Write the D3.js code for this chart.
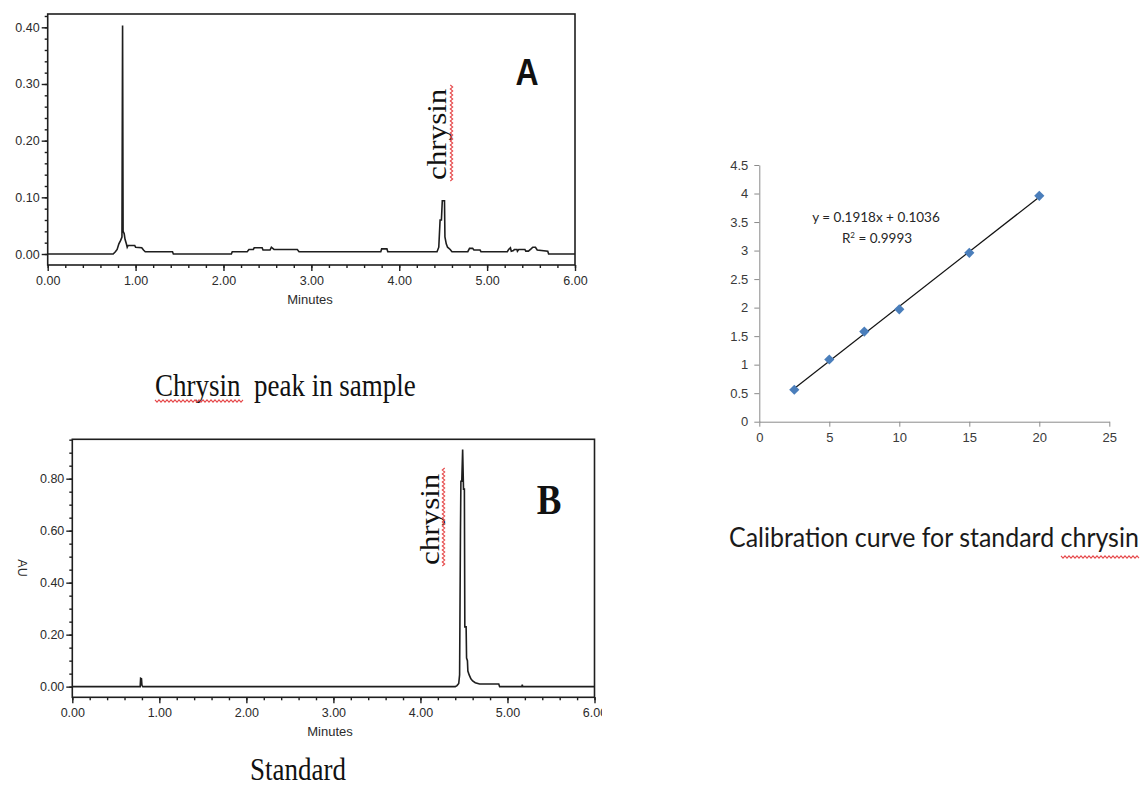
<!DOCTYPE html>
<html>
<head>
<meta charset="utf-8">
<script src="https://cdn.jsdelivr.net/npm/d3@7"></script>
<style>
  html, body { margin: 0; padding: 0; background: #fff; }
  svg { display: block; }
  .tick text { font-family: "Liberation Sans", Arial, sans-serif; }
</style>
</head>
<body>
<script>
// ---------- Chromatogram A: sample extract ----------
const timeA = [0.00, 0.745, 0.77, 0.79, 0.81, 0.83, 0.845, 0.852, 0.858, 0.87, 0.88, 0.895, 0.905, 0.915, 0.99, 1.00, 1.07, 1.09, 1.11, 1.42, 1.43, 2.09, 2.10, 2.27, 2.29, 2.34, 2.35, 2.44, 2.45, 2.53, 2.545, 2.575, 2.84, 2.86, 3.79, 3.80, 3.86, 3.87, 4.43, 4.45, 4.465, 4.48, 4.49, 4.515, 4.52, 4.535, 4.55, 4.58, 4.60, 4.78, 4.80, 4.835, 4.85, 4.92, 4.93, 5.23, 5.245, 5.265, 5.275, 5.30, 5.31, 5.34, 5.345, 5.36, 5.43, 5.44, 5.47, 5.50, 5.52, 5.55, 5.57, 5.69, 5.70, 6.00];
const signalA = [0.000, 0.000, 0.004, 0.008, 0.018, 0.024, 0.030, 0.403, 0.040, 0.036, 0.026, 0.018, 0.012, 0.015, 0.015, 0.012, 0.011, 0.007, 0.004, 0.004, 0.000, 0.000, 0.004, 0.004, 0.008, 0.008, 0.011, 0.011, 0.007, 0.007, 0.012, 0.008, 0.008, 0.004, 0.004, 0.009, 0.009, 0.004, 0.004, 0.012, 0.060, 0.060, 0.094, 0.094, 0.030, 0.018, 0.012, 0.008, 0.004, 0.004, 0.010, 0.010, 0.007, 0.007, 0.004, 0.004, 0.008, 0.011, 0.005, 0.006, 0.008, 0.008, 0.005, 0.008, 0.008, 0.005, 0.005, 0.009, 0.012, 0.012, 0.007, 0.005, 0.000, 0.000];

// ---------- Chromatogram B: chrysin standard ----------
const timeB = [0.00, 0.78, 0.785, 0.795, 0.80, 0.81, 4.40, 4.42, 4.44, 4.45, 4.46, 4.465, 4.475, 4.485, 4.495, 4.505, 4.51, 4.525, 4.53, 4.54, 4.545, 4.56, 4.58, 4.60, 4.63, 4.66, 4.68, 4.90, 4.91, 5.165, 5.17, 5.175, 6.00];
const signalB = [0.000, 0.000, 0.032, 0.030, 0.005, 0.000, 0.000, 0.004, 0.012, 0.045, 0.600, 0.790, 0.790, 0.912, 0.760, 0.760, 0.230, 0.230, 0.110, 0.100, 0.060, 0.045, 0.030, 0.022, 0.015, 0.012, 0.010, 0.010, 0.000, 0.000, 0.008, 0.000, 0.000];

// ---------- Calibration curve ----------
const concentrations = [2.5, 5, 7.5, 10, 15, 20];
const responses = [0.56, 1.09, 1.58, 1.97, 2.96, 3.96];
const fitSlope = 0.1918;
const fitIntercept = 0.1036;
const fitR2 = 0.9993;

// ---------- Tick labels ----------
const minuteTicks = [0, 1, 2, 3, 4, 5, 6];
const auTicksA = [0.00, 0.10, 0.20, 0.30, 0.40];
const auTicksB = [0.00, 0.20, 0.40, 0.60, 0.80];
const concTicks = [0, 5, 10, 15, 20, 25];
const respTicks = [0, 0.5, 1, 1.5, 2, 2.5, 3, 3.5, 4, 4.5];

const W = 1144, H = 785;
const INK = "#1e1e1e";
const LABEL = "#2b2b2b";
const SQUIGGLE = "#e64a4c";

const svg = d3.select("body").append("svg")
  .attr("width", W).attr("height", H)
  .attr("viewBox", `0 0 ${W} ${H}`);
svg.append("rect").attr("width", W).attr("height", H).attr("fill", "#fff");

// text stretched slightly in height, as set in the document
function tallText(parent, x, y, str, opts) {
  const sy = opts.sy || 1.15;
  const t = parent.append("text")
    .attr("transform", `translate(${x},${y}) scale(1,${sy})` + (opts.rotate ? ` rotate(${opts.rotate})` : ""))
    .attr("font-family", opts.family)
    .attr("font-size", opts.size)
    .attr("font-weight", opts.weight || "normal")
    .attr("text-anchor", opts.anchor || "start")
    .attr("fill", opts.fill || "#111")
    .style("white-space", "pre")
    .text(str);
  return t;
}

// spell-check style wavy underline
function squiggle(parent, x0, y0, x1, y1) {
  const len = Math.hypot(x1 - x0, y1 - y0);
  const ux = (x1 - x0) / len, uy = (y1 - y0) / len;
  const nx = -uy, ny = ux;
  const step = 2, amp = 2.4;
  const pts = [];
  for (let s = 0, i = 0; s <= len; s += step, i++) {
    const a = (i % 2 === 0 ? -amp : amp) / 2;
    pts.push([x0 + ux * s + nx * a, y0 + uy * s + ny * a]);
  }
  parent.append("path")
    .attr("d", d3.line()(pts))
    .attr("fill", "none")
    .attr("stroke", SQUIGGLE)
    .attr("stroke-width", 1.1);
}

function chromatogram(cfg) {
  const g = svg.append("g");
  if (cfg.clipRight) {
    const id = "clip" + cfg.name;
    svg.append("clipPath").attr("id", id)
      .append("rect").attr("x", 0).attr("y", 0).attr("width", cfg.clipRight).attr("height", H);
    g.attr("clip-path", `url(#${id})`);
  }
  const x = d3.scaleLinear().domain([0, 6]).range(cfg.xRange);
  const y = d3.scaleLinear().domain(cfg.yDomain).range(cfg.yRange);
  const [x0, x1] = cfg.xRange;
  const [yb, yt] = cfg.yRange;

  // minor ticks
  const minorY = d3.range(Math.ceil(cfg.yDomain[0] / cfg.yMinor) * cfg.yMinor, cfg.yDomain[1] + 1e-9, cfg.yMinor);
  g.append("g").attr("transform", `translate(${x0},0)`)
    .call(d3.axisLeft(y).tickValues(minorY).tickSize(3).tickFormat(""))
    .call(a => a.select(".domain").remove())
    .call(a => a.selectAll("line").attr("stroke", INK).attr("stroke-width", 1.4));
  g.append("g").attr("transform", `translate(0,${yb})`)
    .call(d3.axisBottom(x).tickValues(d3.range(0, 6.0001, 0.2)).tickSize(3).tickFormat(""))
    .call(a => a.select(".domain").remove())
    .call(a => a.selectAll("line").attr("stroke", INK).attr("stroke-width", 1.4));

  // major ticks and labels
  g.append("g").attr("transform", `translate(${x0},0)`)
    .call(d3.axisLeft(y).tickValues(cfg.yTicks).tickSize(6).tickPadding(2).tickSizeOuter(0).tickFormat(d3.format(".2f")))
    .call(a => a.select(".domain").remove())
    .call(a => a.selectAll("line").attr("stroke", INK).attr("stroke-width", 1.4))
    .call(a => a.selectAll("text").attr("font-size", 12.5).attr("fill", LABEL));
  g.append("g").attr("transform", `translate(0,${yb})`)
    .call(d3.axisBottom(x).tickValues(minuteTicks).tickSize(6).tickPadding(5).tickSizeOuter(0).tickFormat(d3.format(".2f")))
    .call(a => a.select(".domain").remove())
    .call(a => a.selectAll("line").attr("stroke", INK).attr("stroke-width", 1.4))
    .call(a => a.selectAll("text").attr("font-size", 12.5).attr("fill", LABEL));

  // frame
  g.append("rect")
    .attr("x", x0).attr("y", yt).attr("width", x1 - x0).attr("height", yb - yt)
    .attr("fill", "none").attr("stroke", INK).attr("stroke-width", 1.6);

  // trace
  const pts = cfg.t.map((t, i) => [t, cfg.v[i]]);
  g.append("path")
    .attr("d", d3.line().x(d => x(d[0])).y(d => y(d[1]))(pts))
    .attr("fill", "none").attr("stroke", INK).attr("stroke-width", 1.6)
    .attr("stroke-linejoin", "miter");

  g.append("text")
    .attr("x", cfg.minutesX).attr("y", yb + 39)
    .attr("text-anchor", "middle")
    .attr("font-family", "Liberation Sans, Arial, sans-serif")
    .attr("font-size", 13).attr("fill", LABEL)
    .text("Minutes");
  return { g, x, y };
}

// ---------- Panel A ----------
const A = chromatogram({
  name: "A", t: timeA, v: signalA,
  xRange: [47.7, 575], yRange: [265, 14],
  yDomain: [-0.0194, 0.4235], yTicks: auTicksA, yMinor: 0.02,
  minutesX: 310
});
tallText(svg, 446, 180, "chrysin", { family: "Liberation Serif, Times New Roman, serif", size: 27, rotate: -90 });
squiggle(svg, 451.5, 181, 451.5, 84);
tallText(svg, 527, 85, "A", { family: "Liberation Sans, Arial, sans-serif", size: 32, weight: "bold", anchor: "middle" });
tallText(svg, 155, 396, "Chrysin  peak in sample", { family: "Liberation Serif, Times New Roman, serif", size: 27 });
squiggle(svg, 155, 401, 244, 401);

// ---------- Panel B ----------
const B = chromatogram({
  name: "B", t: timeB, v: signalB,
  xRange: [72.3, 594.5], yRange: [697.3, 439.3],
  yDomain: [-0.041, 0.9515], yTicks: auTicksB, yMinor: 0.05,
  minutesX: 330, clipRight: 602
});
svg.append("text")
  .attr("transform", "translate(18,568) rotate(90)")
  .attr("text-anchor", "middle")
  .attr("font-family", "Liberation Sans, Arial, sans-serif")
  .attr("font-size", 12.5).attr("fill", LABEL)
  .text("AU");
tallText(svg, 438.5, 565, "chrysin", { family: "Liberation Serif, Times New Roman, serif", size: 27, rotate: -90 });
squiggle(svg, 443.5, 566, 443.5, 467);
tallText(svg, 549, 514, "B", { family: "Liberation Serif, Times New Roman, serif", size: 37, weight: "bold", anchor: "middle" });
tallText(svg, 298, 780, "Standard", { family: "Liberation Serif, Times New Roman, serif", size: 27, anchor: "middle" });

// ---------- Calibration curve ----------
const cx = d3.scaleLinear().domain([0, 25]).range([759.3, 1109.3]);
const cy = d3.scaleLinear().domain([0, 4.5]).range([421.7, 165]);
const AXIS = "#8a8a8a";
const cal = svg.append("g");

cal.append("g").attr("transform", `translate(0,${cy(0)})`)
  .call(d3.axisBottom(cx).tickValues(concTicks).tickSize(5).tickSizeOuter(0).tickPadding(6).tickFormat(d3.format("")))
  .call(a => a.select(".domain").attr("stroke", AXIS))
  .call(a => a.selectAll("line").attr("stroke", AXIS))
  .call(a => a.selectAll("text").attr("font-family", "Lato, sans-serif").attr("font-size", 13).attr("fill", "#3a3a3a"));
cal.append("g").attr("transform", `translate(${cx(0)},0)`)
  .call(d3.axisLeft(cy).tickValues(respTicks).tickSize(5).tickSizeOuter(0).tickPadding(6).tickFormat(d3.format("")))
  .call(a => a.select(".domain").attr("stroke", AXIS))
  .call(a => a.selectAll("line").attr("stroke", AXIS))
  .call(a => a.selectAll("text").attr("font-family", "Lato, sans-serif").attr("font-size", 13).attr("fill", "#3a3a3a"));

// linear fit over the measured range
const xFit = d3.extent(concentrations);
cal.append("line")
  .attr("x1", cx(xFit[0])).attr("y1", cy(fitSlope * xFit[0] + fitIntercept))
  .attr("x2", cx(xFit[1])).attr("y2", cy(fitSlope * xFit[1] + fitIntercept))
  .attr("stroke", "#111").attr("stroke-width", 1.2);

cal.selectAll("path.pt")
  .data(concentrations.map((c, i) => [c, responses[i]]))
  .join("path")
  .attr("class", "pt")
  .attr("d", d3.symbol(d3.symbolSquare, 52)())
  .attr("transform", d => `translate(${cx(d[0])},${cy(d[1])}) rotate(45)`)
  .attr("fill", "#4a7ebb");

const eq = cal.append("text")
  .attr("x", 876).attr("y", 222)
  .attr("text-anchor", "middle")
  .attr("font-family", "Lato, sans-serif").attr("font-size", 13.5).attr("fill", "#262626")
  .text(`y = ${fitSlope}x + ${fitIntercept}`);
const r2 = cal.append("text")
  .attr("x", 877).attr("y", 243)
  .attr("text-anchor", "middle")
  .attr("font-family", "Lato, sans-serif").attr("font-size", 13.5).attr("fill", "#262626");
r2.append("tspan").text("R");
r2.append("tspan").attr("dy", -5).attr("font-size", 8).text("2");
r2.append("tspan").attr("dy", 5).text(` = ${fitR2}`);

const capC = tallText(svg, 729, 547, "Calibration curve for standard chrysin",
  { family: "Lato, sans-serif", size: 24, sy: 1.1, fill: "#1a1a1a" });
const capLen = capC.node().getComputedTextLength();
capC.attr("font-size", 24 * 410 / capLen);
squiggle(svg, 1061, 557, 1139, 557);
</script>
</body>
</html>
